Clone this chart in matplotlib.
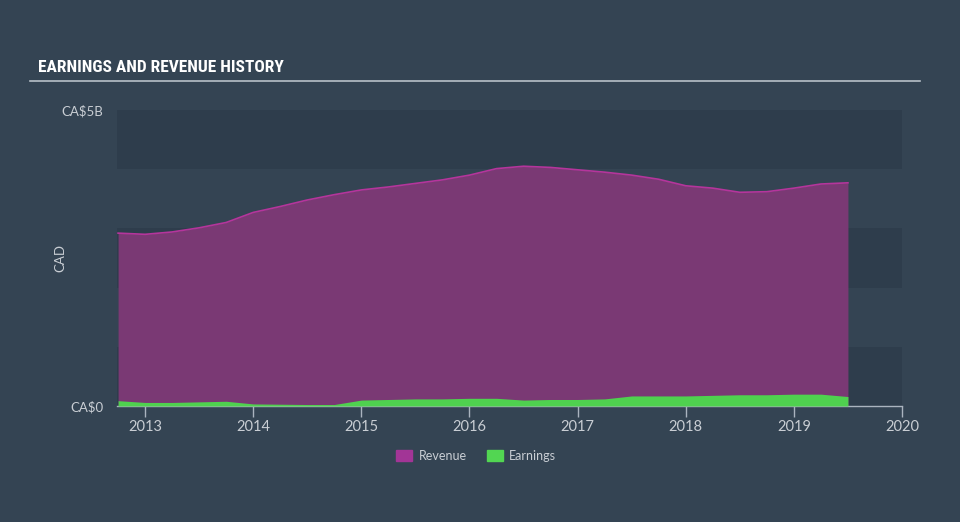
import matplotlib
matplotlib.use("Agg")
import matplotlib.pyplot as plt
from matplotlib.patches import Patch
from matplotlib import font_manager

# quarterly figures, CA$ billions
quarters = [2012.75 + 0.25 * k for k in range(28)]
revenue = [2.92, 2.90, 2.94, 3.01, 3.10, 3.27, 3.37, 3.48, 3.57, 3.65,
           3.70, 3.76, 3.82, 3.90, 4.01, 4.05, 4.03, 3.99, 3.95, 3.90,
           3.83, 3.72, 3.68, 3.61, 3.62, 3.68, 3.75, 3.77]
earnings = [0.09, 0.06, 0.06, 0.07, 0.08, 0.035, 0.03, 0.025, 0.025, 0.10,
            0.11, 0.12, 0.12, 0.13, 0.13, 0.10, 0.11, 0.11, 0.12, 0.17,
            0.17, 0.17, 0.18, 0.19, 0.19, 0.20, 0.20, 0.16]
years = [2013, 2014, 2015, 2016, 2017, 2018, 2019, 2020]

bg = "#344453"
dark_band = "#2e3d4c"
txt = "#c9ced4"

names = {f.name for f in font_manager.fontManager.ttflist}
title_font, title_size = "Roboto", 11.5
for cand in ["Roboto Condensed", "DejaVu Sans Condensed", "Liberation Sans Narrow",
             "Open Sans Condensed"]:
    if cand in names:
        title_font, title_size = cand, 12.5
        break
plt.rcParams["font.family"] = ["Lato", "DejaVu Sans"]

fig = plt.figure(figsize=(9.6, 5.22), dpi=100, facecolor=bg)
ax = fig.add_axes([117 / 960, 1 - 406 / 522, 785 / 960, 296 / 522])
ax.set_facecolor(bg)

for lo in (0, 2, 4):
    ax.axhspan(lo, lo + 1, color=dark_band, zorder=0, lw=0)

ax.fill_between(quarters, revenue, color="#7a3974", zorder=2, lw=0)
ax.plot(quarters, revenue, color="#b5359c", lw=1.2, zorder=3)
ax.fill_between(quarters, earnings, color="#4fd14f", zorder=4, lw=0)

ax.set_xlim(2012.74, 2020)
ax.set_ylim(0, 5)

for s in ("top", "right", "left"):
    ax.spines[s].set_visible(False)
ax.spines["bottom"].set_color("#aab4bf")
ax.spines["bottom"].set_linewidth(1)

ax.set_xticks(years)
ax.set_xticklabels([str(y) for y in years])
ax.tick_params(axis="x", colors="#aab4bf", length=8, width=1, labelcolor=txt,
               labelsize=10.5, pad=2)
ax.set_yticks([0, 5])
ax.set_yticklabels(["CA\\$0", "CA\\$5B"])
ax.tick_params(axis="y", length=0, labelcolor=txt, labelsize=9.5, pad=10)
ax.set_ylabel("CAD", color=txt, fontsize=9.5)
ax.yaxis.set_label_coords((66 - 117) / 785, 0.5)

fig.text(38 / 960, 1 - 68 / 522, "EARNINGS AND REVENUE HISTORY", color="white",
         fontsize=title_size, fontweight="bold", family=title_font, va="center")
fig.add_artist(plt.Line2D([30 / 960, 920 / 960], [1 - 81 / 522, 1 - 81 / 522],
                          color="#b8c0c8", lw=1.2))

handles = [Patch(color="#a23596", label="Revenue"),
           Patch(color="#52d652", label="Earnings")]
leg = fig.legend(handles=handles, loc="center", bbox_to_anchor=(476 / 960, 1 - 456 / 522),
                 ncol=2, frameon=False, fontsize=9, handlelength=1.3,
                 handleheight=1.0, columnspacing=1.6, handletextpad=0.5)
for t in leg.get_texts():
    t.set_color(txt)

fig.savefig("out.png", dpi=100, facecolor=bg)
